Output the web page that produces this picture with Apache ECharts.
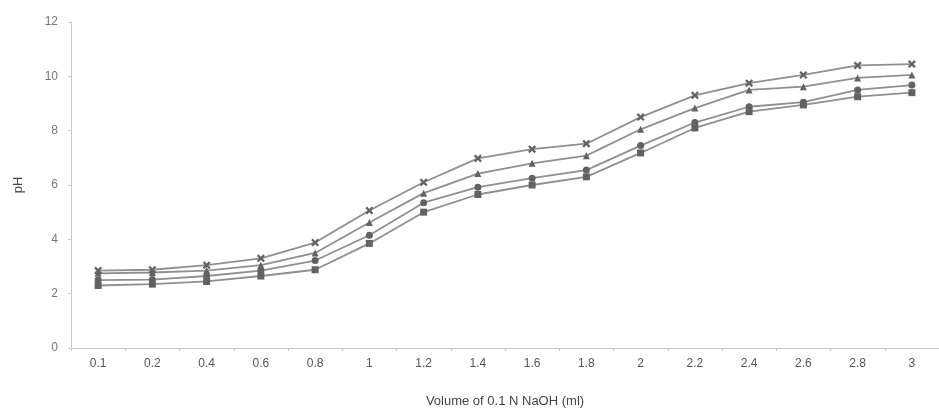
<!DOCTYPE html>
<html>
<head>
<meta charset="utf-8">
<script src="https://cdn.jsdelivr.net/npm/echarts@6/dist/echarts.min.js"></script>
<style>
  html, body { margin: 0; padding: 0; background: #fff; }
  #main { width: 939px; height: 413px; }
</style>
</head>
<body>
<div id="main"></div>
<script>
// volume of NaOH added (ml) - category labels
const volumes = ['0.1', '0.2', '0.4', '0.6', '0.8', '1', '1.2', '1.4', '1.6', '1.8', '2', '2.2', '2.4', '2.6', '2.8', '3'];
// pH readings for four curves
const phSquare   = [2.3, 2.35, 2.45, 2.65, 2.88, 3.85, 5.0, 5.65, 6.0, 6.3, 7.18, 8.1, 8.7, 8.95, 9.25, 9.4];
const phCircle   = [2.5, 2.52, 2.65, 2.85, 3.22, 4.15, 5.35, 5.92, 6.25, 6.55, 7.45, 8.3, 8.88, 9.05, 9.5, 9.68];
const phTriangle = [2.75, 2.78, 2.85, 3.05, 3.5, 4.62, 5.7, 6.42, 6.8, 7.08, 8.05, 8.83, 9.5, 9.62, 9.94, 10.05];
const phCross    = [2.85, 2.88, 3.05, 3.3, 3.88, 5.06, 6.1, 6.98, 7.32, 7.52, 8.5, 9.3, 9.75, 10.05, 10.4, 10.45];
const yTicks = [0, 2, 4, 6, 8, 10, 12];

const chart = echarts.init(document.getElementById('main'));

const lineGray = '#8f8f8f';
const markGray = '#626262';
const crossPath = 'path://M0,2L2,0L5,3L8,0L10,2L7,5L10,8L8,10L5,7L2,10L0,8L3,5Z';

function makeSeries(name, data, symbol, size) {
    return {
        name: name,
        type: 'line',
        data: data,
        symbol: symbol,
        symbolSize: size,
        showAllSymbol: true,
        lineStyle: { color: lineGray, width: 1.8 },
        itemStyle: { color: markGray },
        emphasis: { disabled: true },
        animation: false
    };
}

const option = {
    backgroundColor: '#fff',
    textStyle: { fontFamily: 'Liberation Sans, Arial, sans-serif' },
    grid: { left: 71, top: 22, width: 880, bottom: 65 },
    xAxis: {
        type: 'category',
        data: volumes,
        boundaryGap: true,
        name: 'Volume of 0.1 N NaOH (ml)',
        nameLocation: 'middle',
        nameGap: 47,
        nameTextStyle: { color: '#444', fontSize: 13 },
        axisLine: { lineStyle: { color: '#c8c8c8', width: 1 } },
        axisTick: { show: true, length: 3, lineStyle: { color: '#c8c8c8' } },
        axisLabel: { color: '#555', fontSize: 12, margin: 10 }
    },
    yAxis: {
        type: 'value',
        min: yTicks[0],
        max: yTicks[yTicks.length - 1],
        interval: 2,
        name: 'pH',
        nameLocation: 'middle',
        nameGap: 46,
        nameTextStyle: { color: '#444', fontSize: 13 },
        axisLine: { show: true, lineStyle: { color: '#c8c8c8', width: 1 } },
        axisTick: { show: true, length: 3, lineStyle: { color: '#c8c8c8' } },
        axisLabel: { color: '#777', fontSize: 12, margin: 13 },
        splitLine: { show: false }
    },
    series: [
        makeSeries('square', phSquare, 'rect', 7),
        makeSeries('circle', phCircle, 'circle', 7),
        makeSeries('triangle', phTriangle, 'triangle', 7),
        makeSeries('cross', phCross, crossPath, 8)
    ]
};

chart.setOption(option);
</script>
</body>
</html>
